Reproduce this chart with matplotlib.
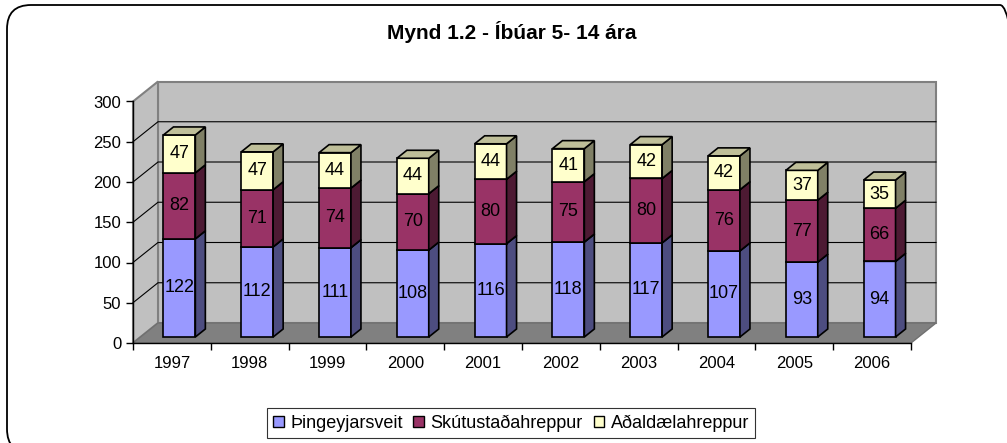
import matplotlib
matplotlib.use("Agg")
import matplotlib.pyplot as plt
from matplotlib.patches import Polygon, Patch, FancyBboxPatch

plt.rcParams['font.family'] = ['Liberation Sans', 'DejaVu Sans']

years = ['1997', '1998', '1999', '2000', '2001', '2002', '2003', '2004', '2005', '2006']
thingeyjarsveit = [122, 112, 111, 108, 116, 118, 117, 107, 93, 94]
skutustadahreppur = [82, 71, 74, 70, 80, 75, 80, 76, 77, 66]
adaldaelahreppur = [47, 47, 44, 44, 44, 41, 42, 42, 37, 35]
series_names = ['Þingeyjarsveit', 'Skútustaðahreppur', 'Aðaldælahreppur']
title = 'Mynd 1.2 - Íbúar 5- 14 ára'
yticks = [0, 50, 100, 150, 200, 250, 300]

front_colors = ['#9999FF', '#993366', '#FFFFCC']
side_colors = ['#4D4D80', '#4D1A33', '#808066']
top_colors = ['#7373BF', '#73264D', '#BFBF99']

W, H = 1007, 443
fig = plt.figure(figsize=(W / 100, H / 100), dpi=100)
ax_left, ax_right, ax_bottom_px, ax_top_px = 133, 911, 343, 101.5
ax = fig.add_axes([ax_left / W, (H - ax_bottom_px) / H,
                   (ax_right - ax_left) / W, (ax_bottom_px - ax_top_px) / H])
ncat = len(years)
ymax = 300
ax.set_xlim(0, ncat)
ax.set_ylim(0, ymax)
ax.set_facecolor('none')

# depth vector in pixels -> data units
depth_px = (25, 20)
DX = depth_px[0] / ((ax_right - ax_left) / ncat)
DY = depth_px[1] / ((ax_bottom_px - ax_top_px) / ymax)


def P(x, y, d):
    return (x + d * DX, y + d * DY)


def poly(pts, fc, ec, lw, z):
    ax.add_patch(Polygon(pts, closed=True, facecolor=fc, edgecolor=ec,
                         linewidth=lw, zorder=z, clip_on=False, joinstyle='miter'))


# walls
poly([P(0, 0, 1), P(ncat, 0, 1), P(ncat, ymax, 1), P(0, ymax, 1)], '#C0C0C0', '#808080', 1.5, 0.1)
poly([P(0, 0, 0), P(0, 0, 1), P(0, ymax, 1), P(0, ymax, 0)], '#C0C0C0', '#808080', 1.5, 0.1)
# gridlines
for v in yticks[1:-1]:
    xs, ys = zip(P(0, v, 0), P(0, v, 1), P(ncat, v, 1))
    ax.plot(xs, ys, color='black', lw=0.8, zorder=0.2, clip_on=False)
# floor
poly([P(0, 0, 0), P(ncat, 0, 0), P(ncat, 0, 1), P(0, 0, 1)], '#808080', '#707070', 1.0, 0.3)

# bars
bw = 0.41
d0, d1 = 0.3, 0.7
series = [thingeyjarsveit, skutustadahreppur, adaldaelahreppur]
for i in range(ncat):
    base = 0
    x0 = i + 0.5 - bw / 2
    x1 = i + 0.5 + bw / 2
    for s, vals in enumerate(series):
        b, t = base, base + vals[i]
        z = 1 + i * 0.01 + s * 0.001
        poly([P(x0, b, d0), P(x1, b, d0), P(x1, t, d0), P(x0, t, d0)], front_colors[s], 'black', 1.2, z)
        poly([P(x1, b, d0), P(x1, b, d1), P(x1, t, d1), P(x1, t, d0)], side_colors[s], 'black', 1.2, z)
        poly([P(x0, t, d0), P(x1, t, d0), P(x1, t, d1), P(x0, t, d1)], top_colors[s], 'black', 1.2, z)
        cx, cy = P(i + 0.5, (b + t) / 2, d0)
        ax.text(cx, cy, str(vals[i]), ha='center', va='center', fontsize=13,
                color='black', zorder=3)
        base = t

# axes
for sp in ['top', 'right']:
    ax.spines[sp].set_visible(False)
ax.spines['left'].set_linewidth(1.0)
ax.spines['bottom'].set_linewidth(1.0)
ax.spines['left'].set_zorder(2)
ax.spines['bottom'].set_zorder(2)
ax.set_yticks(yticks)
ax.set_yticklabels([str(v) for v in yticks])
ax.tick_params(axis='y', direction='out', length=5, width=1, pad=3.5, labelsize=12)
ax.set_xticks(range(ncat + 1))
ax.set_xticklabels([])
ax.set_xticks([i + 0.5 for i in range(ncat)], minor=True)
ax.set_xticklabels(years, minor=True)
ax.tick_params(axis='x', which='major', direction='out', length=5, width=1)
ax.tick_params(axis='x', which='minor', length=0, pad=9, labelsize=12)

# title
fig.text(512 / W, 1 - 32 / H, title, ha='center', va='center', fontsize=15, fontweight='bold')

# legend
handles = [Patch(facecolor=c, edgecolor='black', linewidth=1.0) for c in front_colors]
leg = fig.legend(handles, series_names, loc='center', bbox_to_anchor=(511 / W, 1 - 423 / H),
                 ncol=3, fontsize=13, frameon=True, fancybox=False, edgecolor='black',
                 handlelength=0.6, handleheight=0.6, handletextpad=0.35,
                 columnspacing=0.6, borderpad=0.35, borderaxespad=0)
leg.get_frame().set_linewidth(0.8)

# outer rounded border
border = FancyBboxPatch((0.07, -0.10), 10.17, 4.48, boxstyle='round,pad=0,rounding_size=0.24',
                        transform=fig.dpi_scale_trans, facecolor='none', edgecolor='black',
                        linewidth=1.3, clip_on=False)
fig.patches.append(border)

fig.savefig('out.png', dpi=100)
